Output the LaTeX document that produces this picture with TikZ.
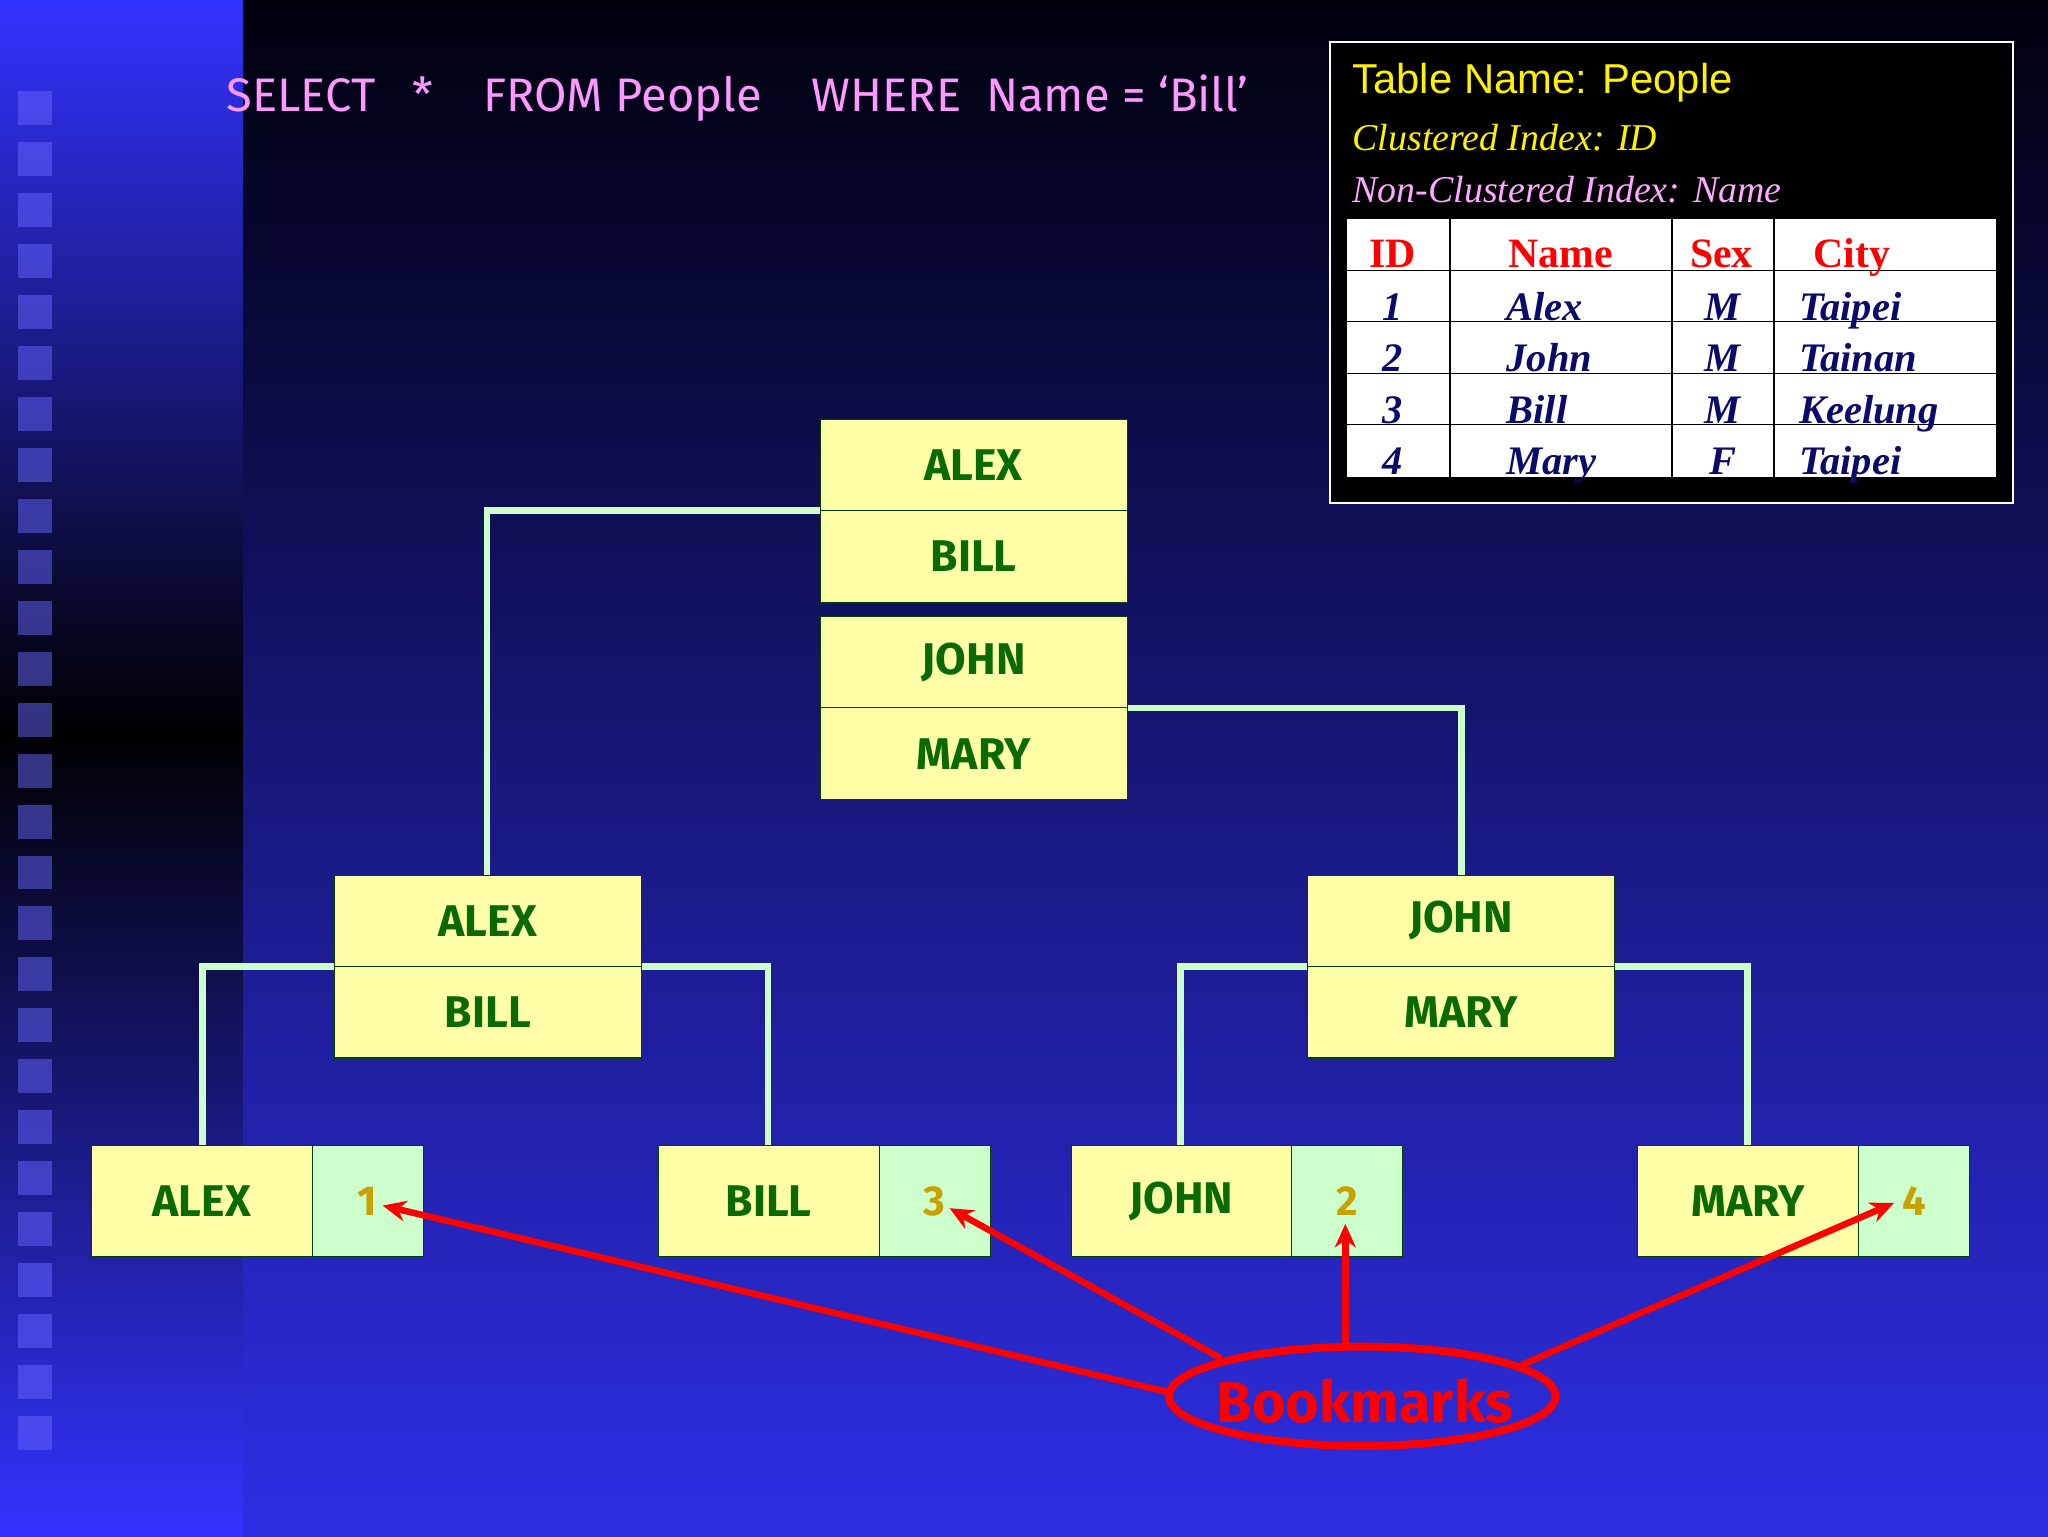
\documentclass[tikz,border=0pt]{standalone}
\usepackage{fontspec}
\setmainfont{Fira Sans}
\newfontfamily\serf{Liberation Serif}
\newfontfamily\arl{Liberation Sans}
\usetikzlibrary{shapes.geometric,arrows.meta}
\definecolor{bx}{HTML}{FFFFA8}
\definecolor{bkg}{HTML}{CCFFCC}
\definecolor{txg}{HTML}{0A6A00}
\definecolor{num}{HTML}{C8A000}
\definecolor{vio}{HTML}{FF99FF}
\definecolor{navy}{HTML}{0A0A6A}
\tikzset{
 kbox/.style={draw=txg!60!black,line width=0.8pt,fill=bx,minimum width=235pt,minimum height=70pt,inner sep=0pt,text=txg,font=\fontsize{34}{36}\selectfont\bfseries},
 lbox/.style={kbox,minimum width=169pt,minimum height=85pt},
 nbox/.style={draw=txg!60!black,line width=0.8pt,fill=bkg,minimum width=85pt,minimum height=85pt,inner sep=0pt,text=num,font=\fontsize{32}{34}\selectfont\bfseries},
 conn/.style={draw=bkg,line width=5pt},
 redarr/.style={draw=red,line width=5pt,-{Stealth[length=18pt,width=16pt]}},
 hd/.style={anchor=base,text=red,font=\serf\fontsize{32}{34}\selectfont\bfseries},
 dt/.style={anchor=base,text=navy,font=\serf\fontsize{31}{33}\selectfont\bfseries\itshape}
}
\begin{document}
\begin{tikzpicture}[x=1pt,y=-1pt]
\useasboundingbox (0,0) rectangle (1568,1176);
\shade[top color=black!95!blue,bottom color=blue!80!white!90!black] (0,0) rectangle (1568,1176);
\shade[top color=blue!80!white,bottom color=black] (0,0) rectangle (186,560);
\shade[top color=black,bottom color=blue!80!white] (0,560) rectangle (186,1176);
\foreach \i in {0,...,26} \fill[blue!60!white,opacity=0.5] (14,{70+39*\i}) rectangle (40,{96+39*\i});
% SQL
\node[anchor=west,text=vio,font=\fontsize{36}{38}\selectfont] (sql) at (170,75) {SELECT\ \ \ *\ \ \ \ FROM People\ \ \ \ WHERE\ \ Name = ‘Bill’};
% table
\draw[white,line width=1.5pt,fill=black] (1018,32) rectangle (1541,385);
\node[anchor=west,text=yellow,font=\arl\fontsize{32}{34}\selectfont] (tn) at (1032,63) {Table Name: People};
\node[anchor=west,text=yellow,font=\serf\itshape\fontsize{29}{31}\selectfont] (ci) at (1032,105) {Clustered Index: ID};
\node[anchor=west,text=vio!85!white,font=\serf\itshape\fontsize{29}{31}\selectfont] (nci) at (1032,145) {Non-Clustered Index: Name};
\fill[white] (1031,168) rectangle (1528,365);
\foreach \y in {207,246,286,325} \draw[black,line width=1.2pt] (1031,\y) -- (1528,\y);
\foreach \x in {1110,1280,1358} \draw[black,line width=1.2pt] (\x,168) -- (\x,365);
\node[hd] (h1) at (1066,205) {ID};
\node[hd] (h2) at (1195,205) {Name};
\node[hd] (h3) at (1318,205) {Sex};
\node[hd] (h4) at (1418,205) {City};
\foreach \r/\a/\b/\c/\d in {0/1/Alex/M/Taipei,1/2/John/M/Tainan,2/3/Bill/M/Keelung,3/4/Mary/F/Taipei}{
 \node[dt] at (1066,{245+39.5*\r}) {\a};
 \node[dt,anchor=base west] at (1150,{245+39.5*\r}) {\b};
 \node[dt] at (1319,{245+39.5*\r}) {\c};
 \node[dt,anchor=base west] at (1374,{245+39.5*\r}) {\d};
}
% connectors
\draw[conn] (628,391) -- (373,391) -- (373,670);
\draw[conn] (863,542) -- (1119,542) -- (1119,670);
\draw[conn] (256,740) -- (155,740) -- (155,877);
\draw[conn] (491,740) -- (588,740) -- (588,877);
\draw[conn] (1001,740) -- (904,740) -- (904,877);
\draw[conn] (1236,740) -- (1338,740) -- (1338,877);
% key boxes
\node[kbox] (r1) at (745.5,356) {ALEX};
\node[kbox] (r2) at (745.5,426) {BILL};
\node[kbox] (r3) at (745.5,507) {JOHN};
\node[kbox] (r4) at (745.5,577) {MARY};
\node[kbox] (m1) at (373.5,705) {ALEX};
\node[kbox] (m2) at (373.5,775) {BILL};
\node[kbox] (m3) at (1118.5,705) {JOHN};
\node[kbox] (m4) at (1118.5,775) {MARY};
\node[lbox] (l1) at (154.5,919.5) {ALEX};
\node[nbox] (n1) at (281.5,919.5) {1};
\node[lbox] (l2) at (588.5,919.5) {BILL};
\node[nbox] (n3) at (715.5,919.5) {3};
\node[lbox] (l3) at (904.5,919.5) {JOHN};
\node[nbox] (n2) at (1031.5,919.5) {2};
\node[lbox] (l4) at (1338.5,919.5) {MARY};
\node[nbox] (n4) at (1465.5,919.5) {4};
% bookmarks
\node[ellipse,draw=red,line width=6pt,minimum width=296pt,minimum height=76pt,inner sep=0pt] (bm) at (1043,1069) {};
\node[text=red,font=\fontsize{44}{46}\selectfont\bfseries] (bmt) at (1045,1073) {Bookmarks};
\coordinate (c1) at (293,923);
\coordinate (c3) at (727,925);
\coordinate (c2) at (1030,937);
\coordinate (c4) at (1450,921);
\coordinate (s1) at (895,1066);
\coordinate (s3) at (935,1040);
\coordinate (s2) at (1030,1031);
\coordinate (s4) at (1165,1045);
\draw[redarr] (s1) -- (c1);
\draw[redarr] (s3) -- (c3);
\draw[redarr] (s2) -- (c2);
\draw[redarr] (s4) -- (c4);
\end{tikzpicture}
\end{document}
